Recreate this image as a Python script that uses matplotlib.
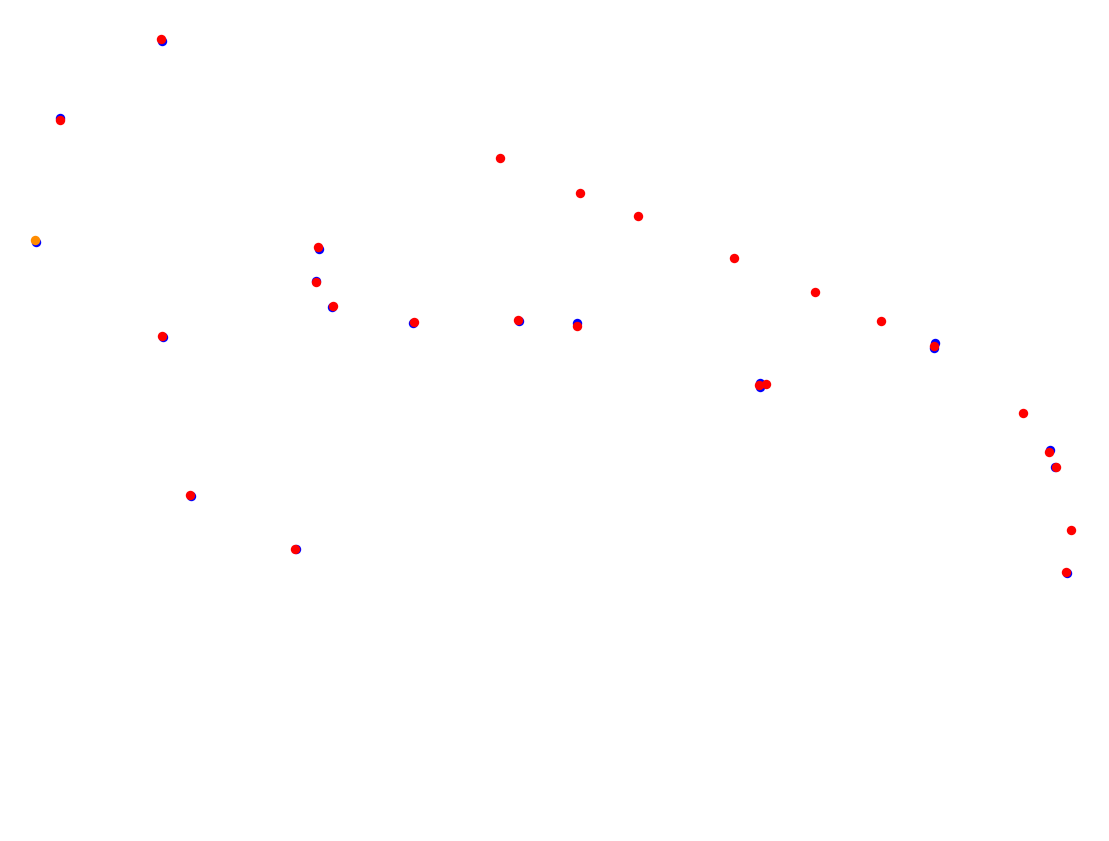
import matplotlib
matplotlib.use("Agg")
import matplotlib.pyplot as plt


FIG_W, FIG_H = 1109, 841

# blue markers (drawn underneath)
blue_x = [162, 60, 36, 319, 316, 332, 413, 519, 577, 935, 934, 760, 760, 1050, 1055, 1067, 163, 191, 296]
blue_y = [41, 118, 242, 249, 281, 307, 323, 321, 323, 343, 348, 383, 387, 450, 467, 573, 337, 496, 549]

# red markers
red_x = [161, 60, 318, 316, 333, 414, 500, 580, 638, 518, 577, 734, 815, 881, 934, 759, 766, 1023, 1049, 1056, 1071, 1066, 162, 190, 295]
red_y = [39, 120, 247, 282, 306, 322, 158, 193, 216, 320, 326, 258, 292, 321, 346, 385, 384, 413, 452, 467, 530, 572, 336, 495, 549]

# single orange marker
orange_x = [35]
orange_y = [240]


def main():
    fig = plt.figure(figsize=(FIG_W / 100, FIG_H / 100), dpi=100)
    ax = fig.add_axes([0, 0, 1, 1])
    ax.set_xlim(0, FIG_W)
    ax.set_ylim(FIG_H, 0)
    ax.axis("off")

    ax.scatter(blue_x, blue_y, s=46, color="#0000ff", linewidths=0, zorder=1)
    ax.scatter(red_x, red_y, s=46, color="#ff0000", linewidths=0, zorder=2)
    ax.scatter(orange_x, orange_y, s=46, color="#ff8c00", linewidths=0, zorder=3)

    fig.savefig("out.png", dpi=100, facecolor="white")


if __name__ == "__main__":
    main()
